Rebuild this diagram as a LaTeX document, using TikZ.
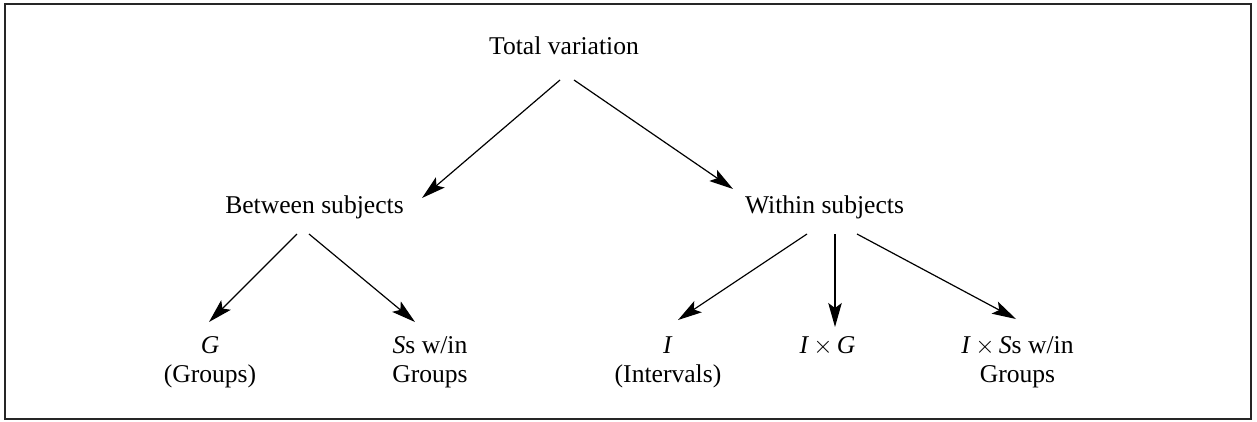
\documentclass[tikz,border=0pt]{standalone}
\usepackage{fontspec}
\setmainfont{Liberation Serif}
\usetikzlibrary{arrows.meta}
\newcommand{\crossx}{\,$\times$\,}
\begin{document}
\begin{tikzpicture}[x=1pt,y=-1pt,
  lbl/.style={inner sep=0pt, anchor=base, align=center, font=\fontsize{25.6}{29}\selectfont},
  arr/.style={line width=1.2pt, -{Stealth[length=24pt,width=13.5pt,inset=5pt]}}]
\useasboundingbox (0,0) rectangle (1257,421);
\draw[line width=2pt, draw=black!85] (5,4) rectangle (1251,419);
% labels (base anchor = baseline of the last line)
\node[lbl] (tv) at (564,54) {Total variation};
\node[lbl] (bs) at (314.5,213) {Between subjects};
\node[lbl] (ws) at (824.5,213) {Within subjects};
\node[lbl] (g) at (210,382) {\textit{G}\\(Groups)};
\node[lbl] (ss) at (430,382) {\textit{S}s w/in\\Groups};
\node[lbl] (i) at (668,382) {\textit{I}\\(Intervals)};
\node[lbl] (ig) at (827.5,353) {\textit{I}\crossx\textit{G}};
\node[lbl] (iss) at (1017.5,382) {\textit{I}\crossx\textit{S}s w/in\\Groups};
% connector ends
\coordinate (tvL) at (560,80);
\coordinate (tvR) at (574,80);
\coordinate (bsIn) at (422,198);
\coordinate (wsIn) at (733,189);
\coordinate (bsL) at (297,234);
\coordinate (bsR) at (309,234);
\coordinate (gIn) at (209,322);
\coordinate (ssIn) at (415,322);
\coordinate (wsL) at (807,234);
\coordinate (wsM) at (835,234);
\coordinate (wsR) at (857,234);
\coordinate (iIn) at (678,320);
\coordinate (igIn) at (835,327);
\coordinate (issIn) at (1016,319);
% connectors
\draw[arr] (tvL) -- (bsIn);
\draw[arr] (tvR) -- (wsIn);
\draw[arr] (bsL) -- (gIn);
\draw[arr] (bsR) -- (ssIn);
\draw[arr] (wsL) -- (iIn);
\draw[arr] (wsM) -- (igIn);
\draw[arr] (wsR) -- (issIn);
\end{tikzpicture}
\end{document}
